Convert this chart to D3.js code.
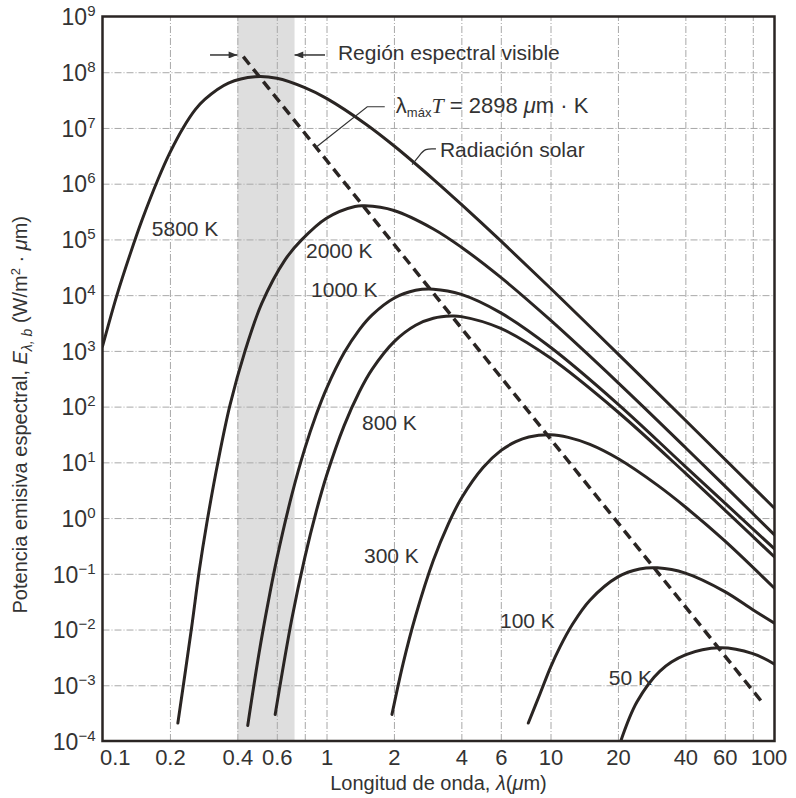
<!DOCTYPE html>
<html>
<head>
<meta charset="utf-8">
<title>Potencia emisiva espectral</title>
<script src="https://d3js.org/d3.v7.min.js"></script>
<style>
  body { margin: 0; background: #fff; }
  text { font-family: "Liberation Sans", Arial, sans-serif; fill: #333; }
</style>
</head>
<body>
<script>
// wavelength (um) and E (W/m2.um)
var lam5800 = [0.1, 0.116, 0.133, 0.15, 0.177, 0.2, 0.229, 0.26, 0.287, 0.365, 0.48, 0.6, 0.8, 1, 1.5, 2, 3, 4, 6, 10, 20, 40, 100];
var e5800 = [1.2e3, 1.0e4, 5.5e4, 2.2e5, 1.2e6, 3.6e6, 1.0e7, 2.15e7, 3.3e7, 6.4e7, 8.3e7, 7.8e7, 5.3e7, 3.4e7, 1.17e7, 4.8e6, 1.2e6, 4.25e5, 9.4e4, 1.33e4, 885, 57, 1.5];

var lam2000 = [0.217, 0.25, 0.27, 0.292, 0.329, 0.371, 0.433, 0.514, 0.653, 0.774, 1.0, 1.34, 1.48, 2, 3, 4, 6, 10, 20, 40, 100];
var e2000 = [2.1e-4, 1.1e-2, 0.11, 0.80, 11, 107, 1.0e3, 7.1e3, 4.3e4, 9.8e4, 2.4e5, 3.9e5, 4.0e5, 3.3e5, 1.54e5, 7.25e4, 2.08e4, 3.55e3, 270, 18.5, 0.5];

var lam1000 = [0.445, 0.5, 0.55, 0.6, 0.7, 0.8, 0.9, 1.0, 1.2, 1.4, 1.6, 2, 2.5, 3, 4, 6, 10, 20, 40, 100];
var e1000 = [1.9e-4, 3.8e-3, 0.032, 0.185, 2.6, 17.6, 72, 211, 931, 2.39e3, 4.43e3, 8.8e3, 1.22e4, 1.28e4, 1.03e4, 4.8e3, 1.16e3, 111, 8.4, 0.28];

var lam800 = [0.59, 0.7, 0.8, 0.9, 1.0, 1.2, 1.4, 1.6, 2, 2.5, 3, 3.6, 4, 6, 10, 20, 40, 100];
var e800 = [3.0e-4, 0.0155, 0.195, 1.32, 5.75, 46, 183, 470, 1.45e3, 2.88e3, 3.84e3, 4.21e3, 4.12e3, 2.53e3, 742, 80, 6.4, 0.2];

var lam300 = [1.96, 2.2, 2.5, 3, 3.5, 4, 5, 6, 7, 8, 10, 12, 15, 20, 30, 40, 60, 100];
var e300 = [3.0e-4, 2.5e-3, 0.0177, 0.175, 0.79, 2.27, 8.1, 16.2, 23.5, 28.5, 31.2, 28.1, 21, 11.7, 3.9, 1.58, 0.39, 0.055];

var lam100 = [7.96, 9, 10, 11, 12.5, 15, 20, 25, 30, 40, 60, 80, 100];
var e100 = [2.1e-4, 7.2e-4, 2.1e-3, 4.8e-3, 0.0122, 0.0336, 0.088, 0.122, 0.128, 0.103, 0.048, 0.0227, 0.013];

var lam50 = [20.6, 24.3, 30.8, 40, 57, 80, 100];
var e50 = [1.0e-4, 5.0e-4, 1.8e-3, 3.5e-3, 4.7e-3, 3.7e-3, 2.4e-3];

// lambda_max * T = 2898 um.K locus
var lamWien = [0.425, 89];
var eWien = [1.9e8, 4.7e-4];

var visibleBand = [0.4, 0.72];

var xTicks = [0.1, 0.2, 0.4, 0.6, 1, 2, 4, 6, 10, 20, 40, 60, 100];
var xGrid = [0.2, 0.4, 0.6, 0.8, 1, 2, 4, 6, 10, 20, 40, 60, 80];
var yExps = [-4, -3, -2, -1, 0, 1, 2, 3, 4, 5, 6, 7, 8, 9];

var labelText = ['5800 K', '2000 K', '1000 K', '800 K', '300 K', '100 K', '50 K'];
var labelLam = [0.166, 0.81, 0.853, 1.44, 1.47, 5.95, 18.2];
var labelE = [1.17e5, 4.6e4, 9.3e3, 38, 0.158, 0.0106, 1.0e-3];

var ink = '#2a2523';
var width = 796, height = 798;

var svg = d3.select('body').append('svg')
  .attr('width', width)
  .attr('height', height);

svg.append('rect').attr('width', width).attr('height', height).attr('fill', '#fff');

var x = d3.scaleLog().domain([0.1, 100]).range([102.5, 774.5]);
var y = d3.scaleLog().domain([1e-4, 1e9]).range([741, 16.5]);
var x0 = x.range()[0], x1 = x.range()[1], y0 = y.range()[0], y1 = y.range()[1];

svg.append('defs').append('clipPath').attr('id', 'plot')
  .append('rect').attr('x', x0).attr('y', y1).attr('width', x1 - x0).attr('height', y0 - y1);

var marker = svg.select('defs').append('marker')
  .attr('id', 'arrow').attr('viewBox', '0 0 10 8')
  .attr('refX', 10).attr('refY', 4)
  .attr('markerWidth', 10).attr('markerHeight', 7)
  .attr('markerUnits', 'userSpaceOnUse')
  .attr('orient', 'auto');
marker.append('path').attr('d', 'M0,0 L10,4 L0,8 Z').attr('fill', '#333');

// visible band
svg.append('rect')
  .attr('x', x(visibleBand[0]))
  .attr('y', y1)
  .attr('width', x(visibleBand[1]) - x(visibleBand[0]))
  .attr('height', y0 - y1)
  .attr('fill', '#dedede');

// grid
var gx = svg.append('g').attr('transform', 'translate(0,' + y0 + ')')
  .call(d3.axisBottom(x).tickValues(xGrid).tickSize(-(y0 - y1)).tickFormat(() => ''));
var gy = svg.append('g').attr('transform', 'translate(' + x0 + ',0)')
  .call(d3.axisLeft(y).tickValues(yExps.slice(1, -1).map(e => Math.pow(10, e))).tickSize(-(x1 - x0)).tickFormat(() => ''));
[gx, gy].forEach(function (g) {
  g.select('.domain').remove();
  g.selectAll('.tick line')
    .attr('stroke', '#a8a8a8')
    .attr('stroke-width', 1)
    .attr('stroke-dasharray', '7,2,1,2');
});

// curves
var series = [[lam5800, e5800], [lam2000, e2000], [lam1000, e1000], [lam800, e800],
              [lam300, e300], [lam100, e100], [lam50, e50]];
var line = d3.line()
  .x(d => x(d[0]))
  .y(d => y(d[1]))
  .curve(d3.curveCatmullRom.alpha(0.5));

var plot = svg.append('g').attr('clip-path', 'url(#plot)');
plot.selectAll('path.bb')
  .data(series)
  .enter()
    .append('path')
    .attr('class', 'bb')
    .attr('d', s => line(d3.zip(s[0], s[1])))
    .attr('fill', 'none')
    .attr('stroke', ink)
    .attr('stroke-width', 3)
    .attr('stroke-linecap', 'round');

plot.append('path')
  .attr('d', d3.line().x(d => x(d[0])).y(d => y(d[1]))(d3.zip(lamWien, eWien)))
  .attr('fill', 'none')
  .attr('stroke', ink)
  .attr('stroke-width', 3.5)
  .attr('stroke-dasharray', '10,6');

// frame
svg.append('rect')
  .attr('x', x0).attr('y', y1)
  .attr('width', x1 - x0).attr('height', y0 - y1)
  .attr('fill', 'none')
  .attr('stroke', ink)
  .attr('stroke-width', 2.5);

// x tick labels
var ax = svg.append('g').attr('transform', 'translate(0,' + y0 + ')')
  .call(d3.axisBottom(x).tickValues(xTicks).tickSize(0).tickPadding(8).tickFormat(d3.format('')));
ax.select('.domain').remove();
ax.selectAll('.tick text')
  .attr('font-size', 22)
  .attr('font-family', '"Liberation Sans", Arial, sans-serif')
  .attr('fill', '#333')
  .attr('text-anchor', (d, i) => i === 0 ? 'start' : 'middle')
  .attr('dx', (d, i) => i === 0 ? -3 : (i === xTicks.length - 1 ? -6 : 0));

// y tick labels 10^n
var ay = svg.append('g').attr('transform', 'translate(' + x0 + ',0)')
  .call(d3.axisLeft(y).tickValues(yExps.map(e => Math.pow(10, e))).tickSize(0).tickPadding(7).tickFormat(() => ''));
ay.select('.domain').remove();
ay.selectAll('.tick text')
  .attr('font-size', 23)
  .attr('font-family', '"Liberation Sans", Arial, sans-serif')
  .attr('fill', '#333')
  .attr('dy', '0.36em')
  .each(function (d, i) {
    var t = d3.select(this);
    var e = yExps[i];
    t.append('tspan').text('10');
    t.append('tspan').attr('dy', -9).attr('font-size', 15)
      .text(e < 0 ? '\u2212' + Math.abs(e) : String(e));
  });

// axis titles
var xt = svg.append('text')
  .attr('x', (x0 + x1) / 2).attr('y', 790)
  .attr('text-anchor', 'middle')
  .attr('font-size', 20);
xt.append('tspan').text('Longitud de onda, ');
xt.append('tspan').attr('font-style', 'italic').text('\u03bb');
xt.append('tspan').text('(');
xt.append('tspan').attr('font-style', 'italic').text('\u03bc');
xt.append('tspan').text('m)');

var yt = svg.append('text')
  .attr('transform', 'translate(27,' + ((y0 + y1) / 2 + 36) + ') rotate(-90)')
  .attr('text-anchor', 'middle')
  .attr('font-size', 20);
yt.append('tspan').text('Potencia emisiva espectral, ');
yt.append('tspan').attr('font-style', 'italic').text('E');
yt.append('tspan').attr('font-style', 'italic').attr('font-size', 14).attr('dy', 5).text('\u03bb, b');
yt.append('tspan').attr('dy', -5).text(' (W/m');
yt.append('tspan').attr('font-size', 13).attr('dy', -7).text('2');
yt.append('tspan').attr('dy', 7).text(' \u00b7 ');
yt.append('tspan').attr('font-style', 'italic').text('\u03bc');
yt.append('tspan').text('m)');

// curve labels
svg.selectAll('text.lbl')
  .data(labelText)
  .enter()
    .append('text')
    .attr('class', 'lbl')
    .attr('x', (d, i) => x(labelLam[i]))
    .attr('y', (d, i) => y(labelE[i]))
    .attr('font-size', 21)
    .text(d => d);

// visible region annotation
svg.append('line')
  .attr('x1', x(0.302)).attr('y1', y(2.04e8))
  .attr('x2', x(visibleBand[0])).attr('y2', y(2.04e8))
  .attr('stroke', '#333').attr('stroke-width', 1.5)
  .attr('marker-end', 'url(#arrow)');
svg.append('line')
  .attr('x1', x(0.985)).attr('y1', y(2.04e8))
  .attr('x2', x(visibleBand[1])).attr('y2', y(2.04e8))
  .attr('stroke', '#333').attr('stroke-width', 1.5)
  .attr('marker-end', 'url(#arrow)');
svg.append('text')
  .attr('x', x(1.125)).attr('y', y(1.66e8))
  .attr('font-size', 21)
  .text('Regi\u00f3n espectral visible');

// Wien label with leader
svg.append('path')
  .attr('d', d3.line().x(d => x(d[0])).y(d => y(d[1]))([[1.82, 2.4e7], [1.52, 2.4e7], [0.898, 4.5e6]]))
  .attr('fill', 'none').attr('stroke', '#333').attr('stroke-width', 1.2);
var wt = svg.append('text')
  .attr('x', x(2.04)).attr('y', y(1.85e7))
  .attr('font-size', 22);
wt.append('tspan').text('\u03bb');
wt.append('tspan').attr('font-size', 13).attr('dy', 4).text('m\u00e1x');
wt.append('tspan').attr('dy', -4).attr('font-style', 'italic').attr('font-family', '"Liberation Serif", serif').text('T');
wt.append('tspan').text(' = 2898 ');
wt.append('tspan').attr('font-style', 'italic').text('\u03bc');
wt.append('tspan').text('m \u00b7 K');

// solar label with leader
svg.append('path')
  .attr('d', d3.line().x(d => x(d[0])).y(d => y(d[1])).curve(d3.curveBasis)([[3.08, 4.2e6], [2.75, 4.3e6], [2.6, 3.2e6], [2.41, 2.2e6]]))
  .attr('fill', 'none').attr('stroke', '#333').attr('stroke-width', 1.2);
svg.append('text')
  .attr('x', x(3.21)).attr('y', y(3.0e6))
  .attr('font-size', 21)
  .text('Radiaci\u00f3n solar');
</script>
</body>
</html>
